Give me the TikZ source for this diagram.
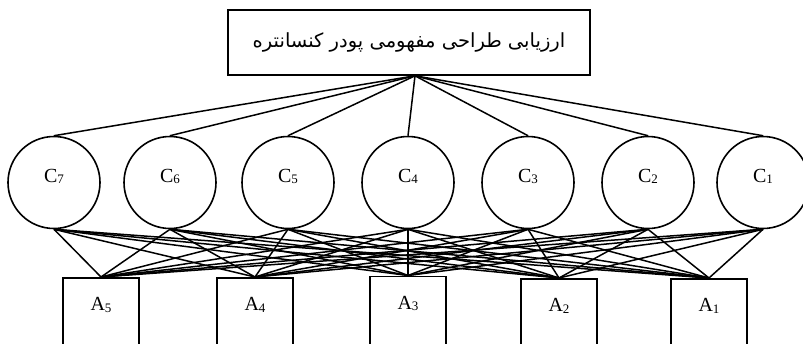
\documentclass[tikz,border=0pt]{standalone}
\usepackage{fontspec}
\setmainfont{Liberation Serif}
\newfontfamily\arabicfont[Script=Arabic]{DejaVu Sans}
\TeXXeTstate=1
\newcommand{\idx}[2]{#1\raisebox{-0.15ex}{\fontsize{13}{13}\selectfont #2}}
\begin{document}
\begin{tikzpicture}[x=1pt,y=-1pt,line width=1.6pt,
  goalbox/.style={draw,rectangle,minimum width=362pt,minimum height=65pt,
    font=\arabicfont\fontsize{19.5}{22}\selectfont},
  crit/.style={draw,circle,minimum size=92pt,inner sep=0pt,
    text height=15pt,text depth=15pt,font=\fontsize{20}{22}\selectfont},
  alt/.style={draw,rectangle,anchor=north,minimum width=76pt,inner xsep=0pt,
    inner ysep=11pt,text height=22pt,text depth=60pt,
    font=\fontsize{20}{22}\selectfont},
  link/.style={line width=1.5pt}]
\useasboundingbox (0,0) rectangle (803,343);
\clip (0,0) rectangle (803,343);
% goal
\node[goalbox] (g) at (409,42.5) {\beginR ارزیابی طراحی مفهومی پودر کنسانتره\endR};
% criteria
\node[crit] (c7) at (54,182.5) {\idx{C}{7}};
\node[crit] (c6) at (170,182.5) {\idx{C}{6}};
\node[crit] (c5) at (288,182.5) {\idx{C}{5}};
\node[crit] (c4) at (408,182.5) {\idx{C}{4}};
\node[crit] (c3) at (528,182.5) {\idx{C}{3}};
\node[crit] (c2) at (648,182.5) {\idx{C}{2}};
\node[crit] (c1) at (763,182.5) {\idx{C}{1}};
% alternatives
\node[alt] (a5) at (101,277) {\idx{A}{5}};
\node[alt] (a4) at (255,277) {\idx{A}{4}};
\node[alt] (a3) at (408,275.5) {\idx{A}{3}};
\node[alt] (a2) at (559,278) {\idx{A}{2}};
\node[alt] (a1) at (709,278) {\idx{A}{1}};
% goal to criteria
\foreach \c in {c1,c2,c3,c4,c5,c6,c7}
  \draw[link] ([xshift=6pt]g.south) -- (\c.north);
% criteria to alternatives
\foreach \c in {c1,c2,c3,c4,c5,c6,c7}
  \foreach \a in {a1,a2,a3,a4,a5}
    \draw[link] (\c.south) -- (\a.north);
\end{tikzpicture}
\end{document}
